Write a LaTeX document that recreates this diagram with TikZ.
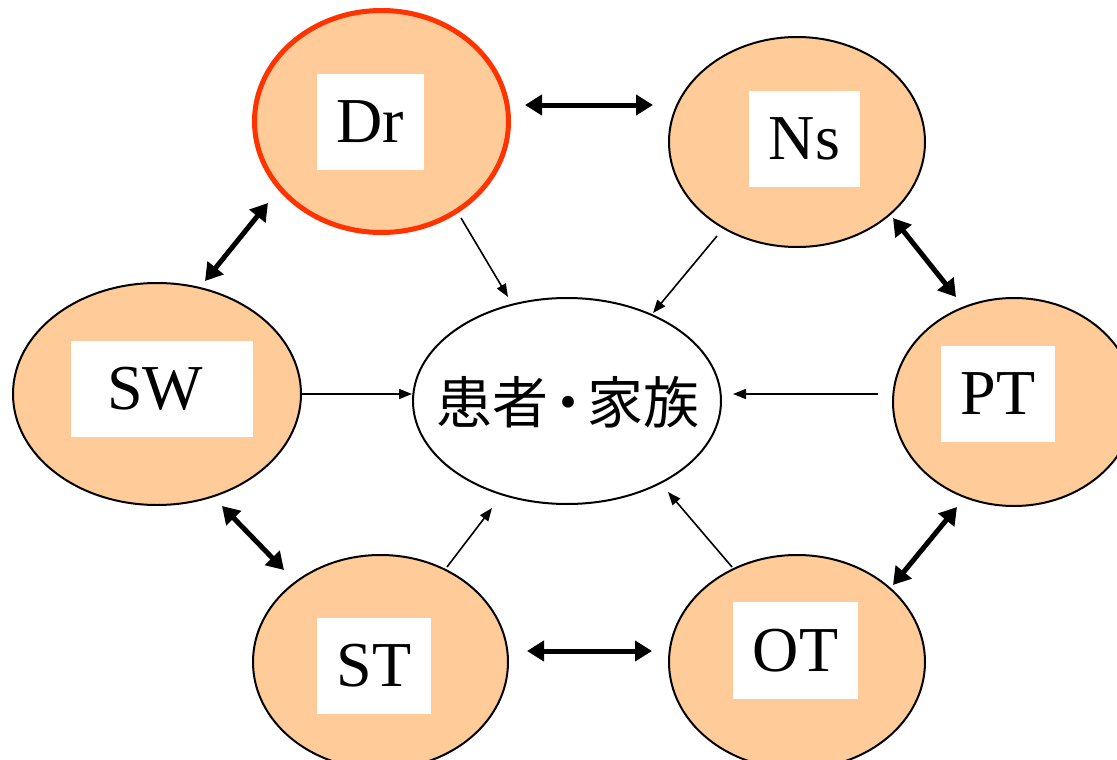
\documentclass[tikz,border=0pt]{standalone}
\usepackage{fontspec}
\setmainfont{Liberation Serif}
\newfontfamily\cjk{Noto Sans CJK JP}
\usetikzlibrary{shapes.geometric,arrows.meta}
\definecolor{peach}{RGB}{255,204,153}
\definecolor{drred}{RGB}{255,51,0}
\begin{document}
\begin{tikzpicture}[x=1pt,y=-1pt,
  member/.style={ellipse, draw=black, line width=2pt, fill=peach, inner sep=0pt},
  lab/.style={fill=white, inner sep=0pt, minimum height=96pt, font=\fontsize{64}{70}\selectfont},
  bi/.style={line width=5pt, {Triangle[length=17pt,width=20pt]}-{Triangle[length=17pt,width=20pt]}},
  toc/.style={line width=1.6pt, -{Triangle[length=13pt,width=10pt]}}]
\useasboundingbox (0,0) rectangle (1117,760);
% ellipses
\node[member, draw=drred, line width=5pt, minimum width=254pt, minimum height=222pt] (dr) at (381.5,121.5) {};
\node[member, minimum width=256pt, minimum height=210pt] (ns) at (797,142) {};
\node[member, minimum width=288pt, minimum height=222pt] (sw) at (157,394) {};
\node[member, minimum width=242pt, minimum height=208pt] (pt) at (1014,402) {};
\node[member, minimum width=255pt, minimum height=214pt] (st) at (380.5,662) {};
\node[member, minimum width=256pt, minimum height=214pt] (ot) at (797,662) {};
\node[ellipse, draw=black, line width=2pt, fill=white, inner sep=0pt, minimum width=308pt, minimum height=206pt] (c) at (567,401) {};
\node[font=\cjk\fontsize{56}{60}\selectfont, inner sep=0pt] (ctext) at (568,402) {患者\kern-0.15em・\kern-0.15em家族};
% labels
\node[lab, minimum width=107pt] (drl) at (370.5,122) {Dr};
\node[lab, minimum width=111pt] (nsl) at (804.5,139) {Ns};
\node[lab, minimum width=182pt] (swl) at (162,389) {\kern-14pt SW};
\node[lab, minimum width=114pt] (ptl) at (998,394) {PT};
\node[lab, minimum width=114pt] (stl) at (374,666) {ST};
\node[lab, minimum width=125pt, minimum height=97pt] (otl) at (795.5,650.5) {OT};
% thick two-way arrows
\draw[bi] ([shift={(143.5,-16.5)}]dr.center) -- ([shift={(-144,-37)}]ns.center);
\draw[bi] ([shift={(-113.5,81.5)}]dr.center) -- ([shift={(48,-113)}]sw.center);
\draw[bi] ([shift={(96,76)}]ns.center) -- ([shift={(-58,-105)}]pt.center);
\draw[bi] ([shift={(65,112)}]sw.center) -- ([shift={(-96.5,-92)}]st.center);
\draw[bi] ([shift={(-57,105)}]pt.center) -- ([shift={(96,-77)}]ot.center);
\draw[bi] ([shift={(146.5,-11)}]st.center) -- ([shift={(-145,-11)}]ot.center);
% thin arrows to the centre
\draw[toc] ([shift={(79.5,96.5)}]dr.center) -- ([shift={(-59,-104)}]c.center);
\draw[toc] ([shift={(-80,94)}]ns.center) -- ([shift={(86,-88)}]c.center);
\draw[toc] ([shift={(145,0)}]sw.center) -- ([shift={(-155,-7)}]c.center);
\draw[toc] ([shift={(-136,-8)}]pt.center) -- ([shift={(166,-7)}]c.center);
\draw[toc] ([shift={(66.5,-95)}]st.center) -- ([shift={(-75,107)}]c.center);
\draw[toc] ([shift={(-65,-95)}]ot.center) -- ([shift={(101,91)}]c.center);
\end{tikzpicture}
\end{document}
